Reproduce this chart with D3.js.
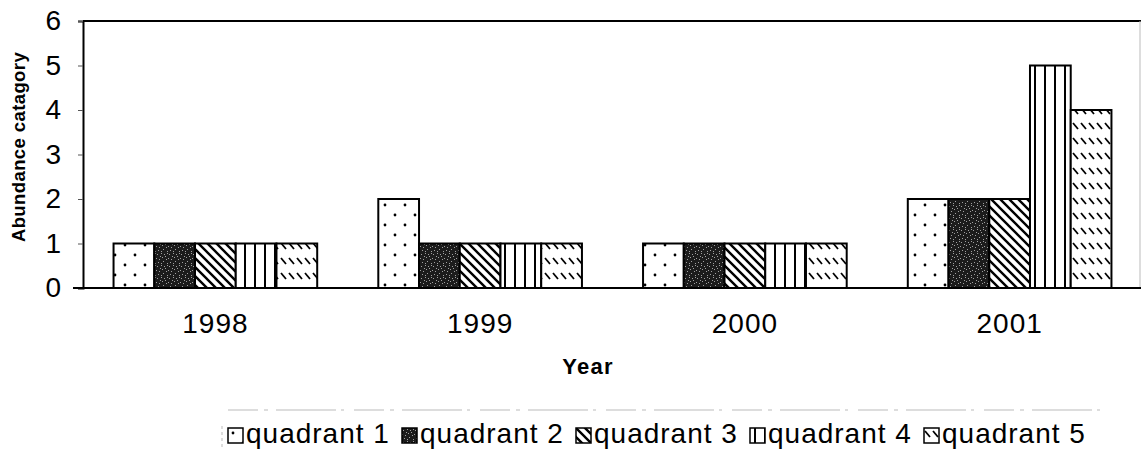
<!DOCTYPE html>
<html><head><meta charset="utf-8">
<script src="https://cdn.jsdelivr.net/npm/d3@7"></script>
<style>html,body{margin:0;padding:0;background:#fff;}svg{display:block;font-family:"Liberation Sans",Arial,sans-serif;}</style>
</head><body>
<svg id="c" width="1141" height="460"></svg>
<script>
const years = ["1998","1999","2000","2001"];
const quadrants = ["quadrant 1","quadrant 2","quadrant 3","quadrant 4","quadrant 5"];
const q1 = [1,2,1,2];
const q2 = [1,1,1,2];
const q3 = [1,1,1,2];
const q4 = [1,1,1,5];
const q5 = [1,1,1,4];
const series = [q1,q2,q3,q4,q5];
const yTicks = [0,1,2,3,4,5,6];

const svg = d3.select("#c");
const L = 83, R = 1142, T = 21, B = 288;
const x = d3.scaleBand().domain(years).range([L, R]).paddingInner(0).paddingOuter(0);
const step = x.bandwidth();
const gw = step/1.3;
const xi = d3.scaleBand().domain(quadrants).range([(step-gw)/2, (step+gw)/2]).padding(0);
const y = d3.scaleLinear().domain([0,6]).range([B, T]);

// patterns
const defs = svg.append("defs");
function pat(id, w, h){ return defs.append("pattern").attr("id",id).attr("patternUnits","userSpaceOnUse").attr("width",w).attr("height",h); }
let p = pat("p1",20,20);
p.append("rect").attr("width",20).attr("height",20).attr("fill","#fff");
p.append("circle").attr("cx",5).attr("cy",5).attr("r",1.4).attr("fill","#000");
p.append("circle").attr("cx",15).attr("cy",15).attr("r",1.4).attr("fill","#000");
p = pat("p2",12,12);
p.append("rect").attr("width",12).attr("height",12).attr("fill","#1c1c1c");
[[1,2],[5,1],[9,4],[3,7],[7,9],[11,11],[2,10],[6,5],[10,7],[4,4],[8,2],[0,6],[5,11],[11,1]].forEach(d=>{
  p.append("rect").attr("x",d[0]).attr("y",d[1]).attr("width",1).attr("height",1).attr("fill","#a0a0a0");
});
p = pat("p3",9,9);
p.append("rect").attr("width",9).attr("height",9).attr("fill","#fff");
p.append("path").attr("d","M-2,-2 L11,11 M-2,7 L2,11 M7,-2 L11,2").attr("stroke","#000").attr("stroke-width",2.4);
p = pat("p4",10,10);
p.append("rect").attr("width",10).attr("height",10).attr("fill","#fff");
p.append("path").attr("d","M5,0 L5,10").attr("stroke","#000").attr("stroke-width",2);
p = pat("p5",8,15);
p.append("rect").attr("width",8).attr("height",15).attr("fill","#fff");
p.append("path").attr("d","M1,3 L6,9").attr("stroke","#000").attr("stroke-width",1.8);
const fills = ["url(#p1)","url(#p2)","url(#p3)","url(#p4)","url(#p5)"];

// frame
svg.append("line").attr("x1",L).attr("x2",1141).attr("y1",T).attr("y2",T).attr("stroke","#000").attr("stroke-width",2);
svg.append("line").attr("x1",1140).attr("x2",1140).attr("y1",T).attr("y2",B).attr("stroke","#bbb").attr("stroke-width",1);

// bars
const g = svg.append("g");
years.forEach((yr, i) => {
  series.forEach((s, j) => {
    g.append("rect")
      .attr("x", x(yr) + xi(quadrants[j]))
      .attr("y", y(s[i]))
      .attr("width", xi.bandwidth())
      .attr("height", y(0) - y(s[i]))
      .attr("fill", fills[j])
      .attr("stroke", "#000").attr("stroke-width", 2);
  });
});

// y axis
const ya = svg.append("g").attr("transform",`translate(${L},0)`)
  .call(d3.axisLeft(y).tickValues(yTicks).tickSize(5).tickPadding(17).tickFormat(d3.format("d")));
ya.select(".domain").attr("stroke","#000").attr("stroke-width",2);
ya.selectAll(".tick line").attr("stroke","#555");
ya.selectAll("text").attr("font-size",28).attr("fill","#000").attr("font-family","Liberation Sans, Arial, sans-serif");

// x axis
const xa = svg.append("g").attr("transform",`translate(0,${B})`)
  .call(d3.axisBottom(x).tickSize(0).tickPadding(18));
xa.select(".domain").attr("d",`M${L-10},0H1141`).attr("stroke","#000").attr("stroke-width",2);
xa.selectAll("text").attr("font-size",28).attr("fill","#000").attr("letter-spacing","1px")
  .attr("font-family","Liberation Sans, Arial, sans-serif").attr("dy","0.95em");

// axis titles
svg.append("text").attr("transform","translate(25,147) rotate(-90)").attr("text-anchor","middle")
  .attr("font-size",18.5).attr("font-weight","bold").attr("letter-spacing","0.4px").text("Abundance catagory");
svg.append("text").attr("x",588).attr("y",374).attr("text-anchor","middle")
  .attr("font-size",22).attr("font-weight","bold").attr("letter-spacing","1.3px").text("Year");

// legend artifact (faint remnants of a border)
svg.append("line").attr("x1",228).attr("x2",1100).attr("y1",410).attr("y2",410)
  .attr("stroke","#bbb").attr("stroke-width",1).attr("stroke-dasharray","30,6,4,8,60,5,3,10");
svg.append("line").attr("x1",222).attr("x2",222).attr("y1",426).attr("y2",450)
  .attr("stroke","#bbb").attr("stroke-width",1).attr("stroke-dasharray","3,3");

// legend
const lg = svg.append("g");
quadrants.forEach((q, j) => {
  const gg = lg.append("g").attr("transform",`translate(${228 + j*174},428)`);
  gg.append("rect").attr("width",15).attr("height",15).attr("fill",fills[j]).attr("stroke","#000").attr("stroke-width",1.5);
  gg.append("text").attr("x",18).attr("y",15).attr("font-size",28).attr("letter-spacing","1px").attr("fill","#000").text(q);
});
</script>
</body></html>
